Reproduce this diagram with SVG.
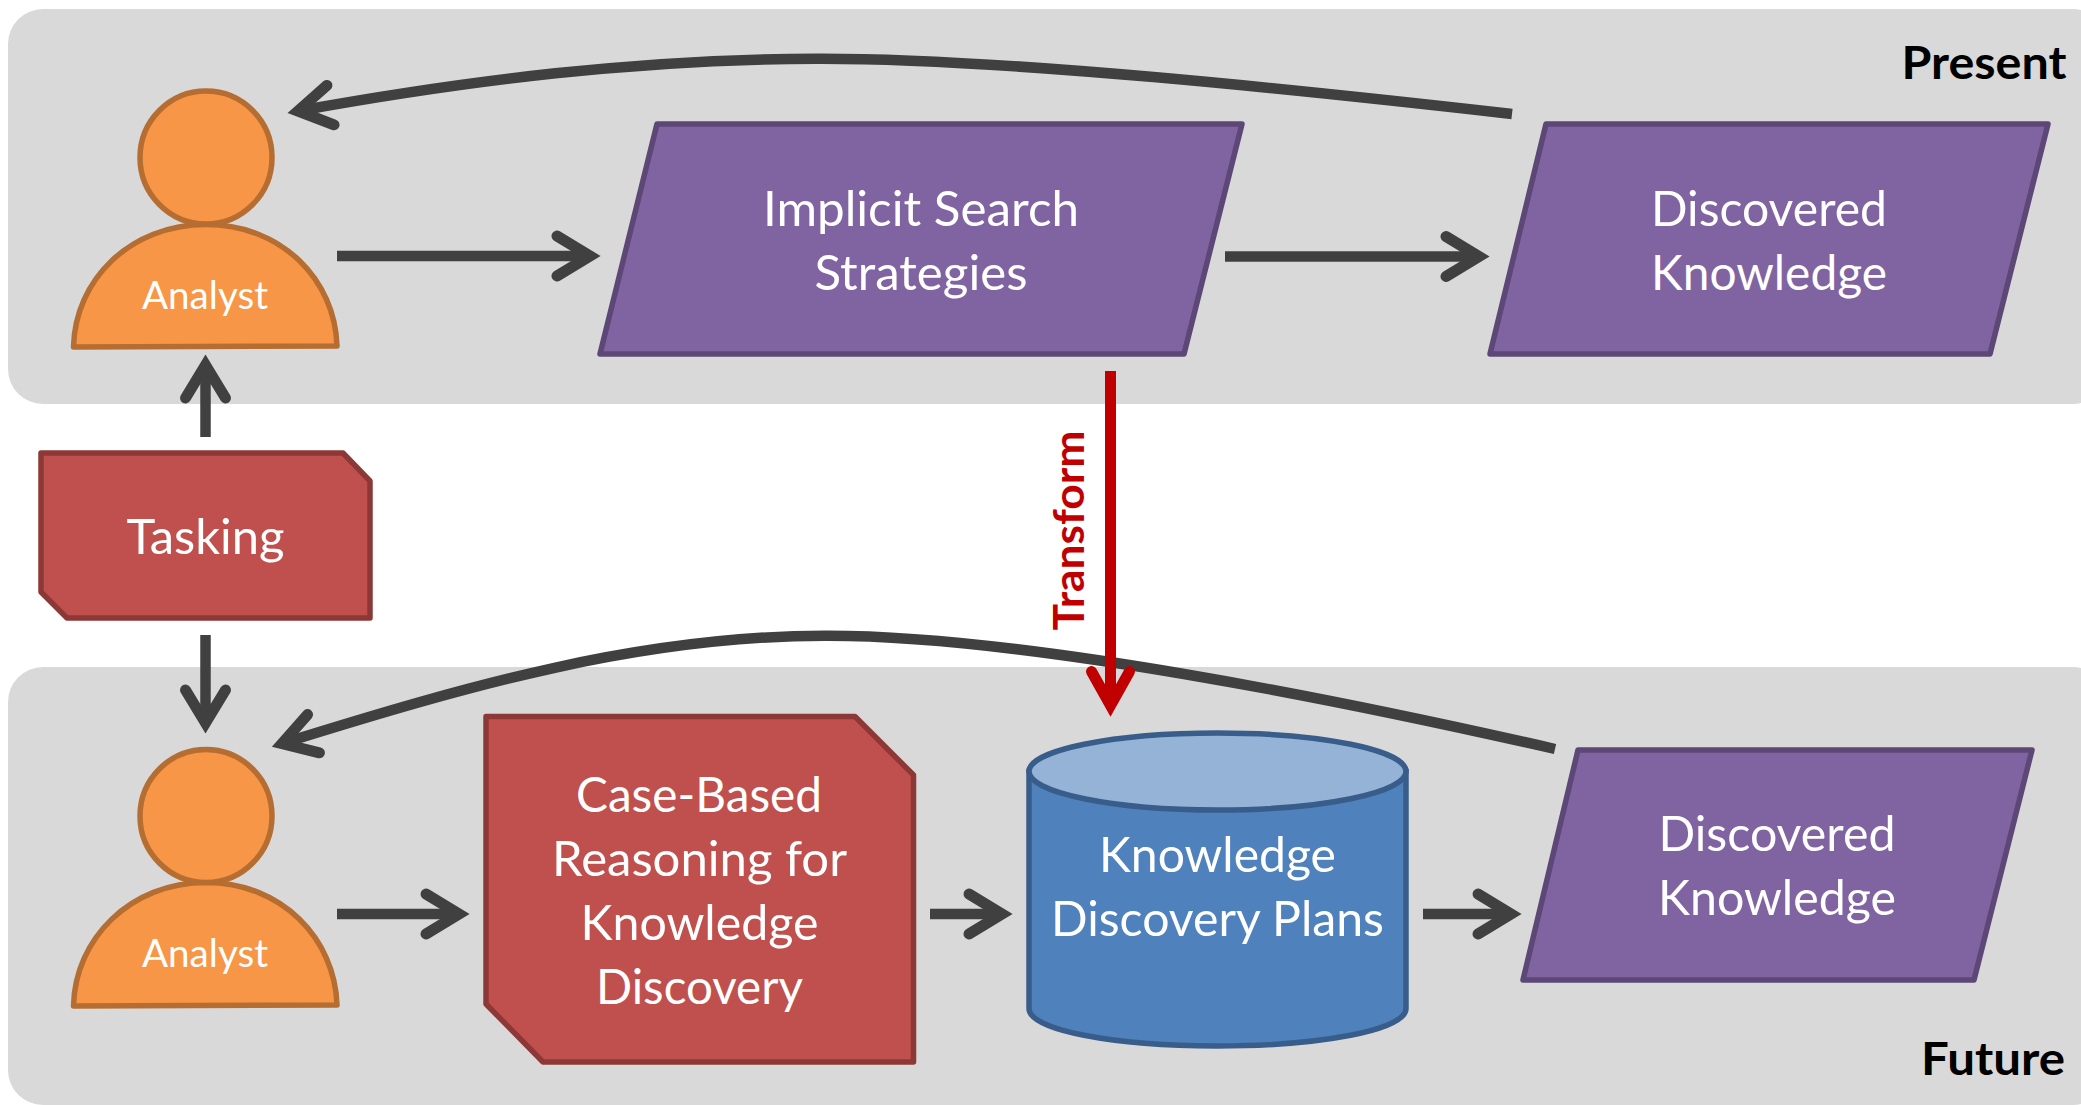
<svg xmlns="http://www.w3.org/2000/svg" width="2081" height="1105" viewBox="0 0 2081 1105">
<style>
text{font-family:Lato,"Open Sans","Liberation Sans",sans-serif;text-anchor:middle;fill:#fff;font-size:48px}
.panel{fill:#d9d9d9}
.hd{font-weight:700;fill:#000;font-size:46px}
.sm{font-size:39px}
.p{fill:#8064a2;stroke:#5c4776;stroke-width:5.500;stroke-linejoin:round}
.r{fill:#c0504d;stroke:#8c3836;stroke-width:5.500;stroke-linejoin:round}
.o{fill:#f79646;stroke:#b66d31;stroke-width:5.500;stroke-linejoin:round}
.c{fill:none;stroke:#404040;stroke-width:10.500;marker-end:url(#a)}
.t{fill:none;stroke:#c00000;stroke-width:11;marker-end:url(#b)}
</style>
<defs>
<marker id="a" markerUnits="userSpaceOnUse" markerWidth="80" markerHeight="80" refX="60" refY="40" orient="auto" overflow="visible"><path d="M27,20L60,40L27,60" fill="none" stroke="#404040" stroke-width="11" stroke-linecap="round" stroke-miterlimit="10"/></marker>
<marker id="b" markerUnits="userSpaceOnUse" markerWidth="80" markerHeight="80" refX="60" refY="40" orient="auto" overflow="visible"><path d="M26,21L60,40L26,59" fill="none" stroke="#c00000" stroke-width="11" stroke-linecap="round" stroke-miterlimit="10"/></marker>
</defs>
<g id="panel-present"><rect class="panel" x="8" y="9" width="2100" height="395" rx="35"/><text class="hd" x="1984" y="79" textLength="165" lengthAdjust="spacingAndGlyphs">Present</text></g>
<g id="panel-future"><rect class="panel" x="8" y="667" width="2100" height="438" rx="35"/><text class="hd" x="1993" y="1075" textLength="144" lengthAdjust="spacingAndGlyphs">Future</text></g>
<g id="analyst-present"><path class="o" d="M73.5,347C75,280 130,224.500 206,224.500C282,224.500 335,280 337,346Z"/><ellipse class="o" cx="206" cy="157.500" rx="66" ry="66.500"/><text class="sm" x="205" y="309" textLength="126" lengthAdjust="spacingAndGlyphs">Analyst</text></g>
<g id="analyst-future"><path class="o" d="M73.500,1006C75,939 130,882.500 206,882.500C282,882.500 335,939 337,1005Z"/><ellipse class="o" cx="206" cy="816" rx="66" ry="66.500"/><text class="sm" x="205" y="967" textLength="126" lengthAdjust="spacingAndGlyphs">Analyst</text></g>
<g id="implicit-search"><polygon class="p" points="657,124 1242,124 1184,354 600,354"/><text x="921" y="226" textLength="316" lengthAdjust="spacingAndGlyphs">Implicit Search</text><text x="921" y="290" textLength="213" lengthAdjust="spacingAndGlyphs">Strategies</text></g>
<g id="discovered-present"><polygon class="p" points="1546,124 2048,124 1990,354 1490,354"/><text x="1769" y="226" textLength="236" lengthAdjust="spacingAndGlyphs">Discovered</text><text x="1769" y="290" textLength="236" lengthAdjust="spacingAndGlyphs">Knowledge</text></g>
<g id="tasking"><polygon class="r" points="41,453 343,453 370,481 370,618 67,618 41,592"/><text x="205.500" y="554" textLength="158" lengthAdjust="spacingAndGlyphs">Tasking</text></g>
<g id="case-based"><polygon class="r" points="486,716.500 855,716.500 913.500,775 913.500,1062 543,1062 486,1004"/><text x="699" y="812" textLength="246" lengthAdjust="spacingAndGlyphs">Case-Based</text><text x="699.500" y="876" textLength="295" lengthAdjust="spacingAndGlyphs">Reasoning for</text><text x="699.500" y="940" textLength="238" lengthAdjust="spacingAndGlyphs">Knowledge</text><text x="699.500" y="1004" textLength="207" lengthAdjust="spacingAndGlyphs">Discovery</text></g>
<g id="plans"><path d="M1029,771.500V1008.500C1029,1030 1113,1046 1217,1046C1321,1046 1406,1030 1406,1008.500V771.500Z" fill="#4f81bd" stroke="#385d8a" stroke-width="5.500"/><ellipse cx="1217.500" cy="771.500" rx="188.500" ry="38.500" fill="#95b3d7" stroke="#385d8a" stroke-width="5.500"/><text x="1217.500" y="872" textLength="237" lengthAdjust="spacingAndGlyphs">Knowledge</text><text x="1217.500" y="936" textLength="333" lengthAdjust="spacingAndGlyphs">Discovery Plans</text></g>
<g id="discovered-future"><polygon class="p" points="1578,750 2032,750 1974,980 1523,980"/><text x="1777" y="851" textLength="237" lengthAdjust="spacingAndGlyphs">Discovered</text><text x="1777" y="915" textLength="238" lengthAdjust="spacingAndGlyphs">Knowledge</text></g>
<g id="connectors">
<path class="c" d="M1512,114C1300,90 1000,58 816,58.700C640,59 470,80 298,111"/>
<path class="c" d="M1555,749C1340,700 1020,635 825,635.700C640,636 470,685 282,743.500"/>
<path class="c" d="M337,256H590"/>
<path class="c" d="M1225,256.500H1479"/>
<path class="c" d="M205.500,437V365"/>
<path class="c" d="M205.500,635V723"/>
<path class="c" d="M337,914H459"/>
<path class="c" d="M930,914H1002"/>
<path class="c" d="M1423,914H1511"/>
<path class="t" d="M1110.500,371V705.500"/>
</g>
<text id="transform" transform="translate(1084,530.500) rotate(-90)" style="fill:#c00000;font-weight:700;font-size:42px" textLength="200" lengthAdjust="spacingAndGlyphs">Transform</text>
</svg>
